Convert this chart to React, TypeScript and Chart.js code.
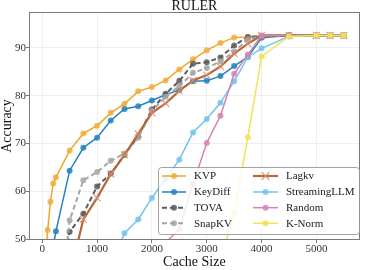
import React, { useEffect, useRef } from "react";
import { Chart, registerables } from "chart.js";

Chart.register(...registerables);

// ---------- data ----------
const cacheSizes = [50, 100, 150, 200, 250, 500, 750, 1000, 1250, 1500, 1750, 2000, 2250, 2500, 2750, 3000, 3250, 3500, 3750, 4000, 4500, 5000, 5250, 5500];

const kvp = [45.0, 51.9, 57.8, 61.6, 62.9, 68.5, 72.1, 73.7, 76.4, 78.3, 80.9, 81.8, 83.2, 85.5, 87.6, 89.5, 91.0, 92.2, 92.3, 92.5, 92.6, 92.6, 92.6, 92.6];
const keyDiff = [null, null, null, 48.4, 51.6, 64.3, 69.1, 71.2, 74.8, 77.2, 77.8, 79.0, 80.2, 81.2, 83.0, 83.1, 84.1, 86.2, 88.1, 92.1, 92.6, 92.6, 92.6, 92.6];
const tova = [null, null, null, null, 36.0, 51.5, 55.3, 61.0, 63.7, 67.6, 71.5, 77.1, 80.4, 83.1, 86.7, 87.0, 88.0, 90.5, 92.3, 92.5, 92.6, 92.6, 92.6, 92.6];
const snapKV = [null, null, null, null, 28.0, 53.9, 62.3, 64.0, 66.4, 67.9, 71.2, 76.8, 79.8, 82.0, 84.8, 85.8, 87.2, 89.2, 91.8, 92.5, 92.6, 92.6, 92.6, 92.6];
const lagkv = [null, null, null, null, null, 42.3, 54.1, 58.6, 63.6, 67.6, 72.0, 76.4, 78.4, 81.0, 83.2, 84.3, 86.1, 88.8, 90.9, 92.6, 92.6, 92.6, 92.6, 92.6];
const streamingLLM = [null, null, null, null, null, null, null, null, 44.3, 51.2, 54.1, 58.6, 62.6, 66.6, 72.3, 75.1, 78.5, 83.0, 88.1, 89.9, 92.4, 92.6, 92.6, 92.6];
const randomSel = [null, null, null, null, null, null, null, null, null, null, null, 45.0, 49.3, 52.0, 61.5, 70.1, 75.8, 84.6, 88.6, 92.6, 92.6, 92.6, 92.6, 92.6];
const kNorm = [null, null, null, null, null, null, null, null, null, null, null, null, null, null, null, 38.0, 45.3, 55.5, 71.3, 88.2, 92.4, 92.6, 92.6, 92.6];

const seriesNames = ["KVP", "KeyDiff", "TOVA", "SnapKV", "Lagkv", "StreamingLLM", "Random", "K-Norm"];
const seriesValues = [kvp, keyDiff, tova, snapKV, lagkv, streamingLLM, randomSel, kNorm];

const xTicks = [0, 1000, 2000, 3000, 4000, 5000];
const yTicks = [50, 60, 70, 80, 90];

// ---------- styles ----------
type Style = { line: string; marker: string; dash: number[]; width: number; point: string; radius: number; markerBorder: number };
const styles: Style[] = [
  { line: "#f0a72e", marker: "rgba(242,170,50,0.8)", dash: [], width: 1.5, point: "circle", radius: 3, markerBorder: 0 },
  { line: "#2382c1", marker: "rgba(35,130,193,0.85)", dash: [], width: 1.5, point: "circle", radius: 3, markerBorder: 0 },
  { line: "#5c5c5c", marker: "rgba(92,92,92,0.85)", dash: [5, 3], width: 2, point: "circle", radius: 3, markerBorder: 0 },
  { line: "#a6a6a6", marker: "rgba(166,166,166,0.85)", dash: [5, 3], width: 2, point: "circle", radius: 3, markerBorder: 0 },
  { line: "#b4683b", marker: "rgba(225,140,105,0.9)", dash: [], width: 2.2, point: "crossRot", radius: 5, markerBorder: 1.2 },
  { line: "#72c4ee", marker: "rgba(114,196,238,0.85)", dash: [], width: 1.5, point: "circle", radius: 3, markerBorder: 0 },
  { line: "#d882b0", marker: "rgba(216,130,176,0.85)", dash: [], width: 1.5, point: "circle", radius: 3, markerBorder: 0 },
  { line: "#f3e25a", marker: "rgba(243,226,90,0.9)", dash: [], width: 1.5, point: "circle", radius: 3, markerBorder: 0 },
];

const FONT = "'Liberation Serif', 'Times New Roman', serif";

const frameAndLegend = {
  id: "frameAndLegend",
  afterDraw(chart: any) {
    const ctx = chart.ctx as CanvasRenderingContext2D;
    const a = chart.chartArea;
    ctx.save();
    // axes frame
    ctx.strokeStyle = "#7a7a7a";
    ctx.lineWidth = 1;
    ctx.strokeRect(Math.round(a.left) - 0.5, Math.round(a.top) - 0.5, Math.round(a.right - a.left) + 1, Math.round(a.bottom - a.top) + 1);

    // legend box
    const bx = 158.5, by = 167.5, bw = 201, bh = 67, r = 3;
    ctx.beginPath();
    ctx.moveTo(bx + r, by);
    ctx.lineTo(bx + bw - r, by);
    ctx.quadraticCurveTo(bx + bw, by, bx + bw, by + r);
    ctx.lineTo(bx + bw, by + bh - r);
    ctx.quadraticCurveTo(bx + bw, by + bh, bx + bw - r, by + bh);
    ctx.lineTo(bx + r, by + bh);
    ctx.quadraticCurveTo(bx, by + bh, bx, by + bh - r);
    ctx.lineTo(bx, by + r);
    ctx.quadraticCurveTo(bx, by, bx + r, by);
    ctx.closePath();
    ctx.fillStyle = "rgba(255,255,255,0.82)";
    ctx.fill();
    ctx.strokeStyle = "#8a8a8a";
    ctx.lineWidth = 0.8;
    ctx.stroke();

    const rowsY = [176, 192, 207.7, 223.3];
    const cols = [
      { h0: 162, h1: 186, tx: 194 },
      { h0: 253, h1: 278, tx: 286 },
    ];
    ctx.font = `11px ${FONT}`;
    ctx.textBaseline = "middle";
    ctx.textAlign = "left";
    seriesNames.forEach((name, i) => {
      const col = cols[Math.floor(i / 4)];
      const y = rowsY[i % 4];
      const s = styles[i];
      ctx.save();
      ctx.strokeStyle = s.line;
      ctx.lineWidth = s.width;
      ctx.setLineDash(s.dash);
      ctx.beginPath();
      ctx.moveTo(col.h0, y);
      ctx.lineTo(col.h1, y);
      ctx.stroke();
      ctx.setLineDash([]);
      const cx = (col.h0 + col.h1) / 2;
      if (s.point === "crossRot") {
        ctx.strokeStyle = s.marker;
        ctx.lineWidth = s.markerBorder;
        const d = s.radius * 0.75;
        ctx.beginPath();
        ctx.moveTo(cx - d, y - d);
        ctx.lineTo(cx + d, y + d);
        ctx.moveTo(cx + d, y - d);
        ctx.lineTo(cx - d, y + d);
        ctx.stroke();
      } else {
        ctx.fillStyle = s.marker;
        ctx.beginPath();
        ctx.arc(cx, y, s.radius, 0, Math.PI * 2);
        ctx.fill();
      }
      ctx.restore();
      ctx.fillStyle = "#1a1a1a";
      ctx.fillText(name, col.tx, y + 0.5);
    });
    ctx.restore();
  },
};

export default function App() {
  const ref = useRef<HTMLCanvasElement | null>(null);

  useEffect(() => {
    if (!ref.current) return;
    Chart.defaults.font.family = FONT;
    const datasets = seriesNames.map((name, i) => {
      const s = styles[i];
      return {
        label: name,
        data: cacheSizes.map((x, j) => ({ x, y: seriesValues[i][j] })).filter((p) => p.y !== null),
        borderColor: s.line,
        backgroundColor: s.marker,
        borderWidth: s.width,
        borderDash: s.dash,
        pointStyle: s.point,
        pointRadius: s.radius,
        pointBorderWidth: s.markerBorder,
        pointBorderColor: s.point === "crossRot" ? s.marker : "rgba(0,0,0,0)",
        pointBackgroundColor: s.marker,
        tension: 0,
        fill: false,
        clip: 0,
        order: seriesNames.length - i,
      };
    });

    const chart = new Chart(ref.current, {
      type: "line",
      data: { datasets: datasets as any },
      options: {
        animation: false,
        responsive: false,
        devicePixelRatio: 1,
        layout: { padding: { left: 0, right: 1, top: 0, bottom: 0 } },
        plugins: {
          legend: { display: false },
          tooltip: { enabled: false },
          title: {
            display: true,
            text: "RULER",
            fullSize: false,
            color: "#111",
            font: { family: FONT, size: 14, weight: "normal", lineHeight: 0.93 },
            padding: 0,
          },
        },
        scales: {
          x: {
            type: "linear",
            min: -222.5,
            max: 5772.5,
            afterBuildTicks: (scale: any) => {
              scale.ticks = xTicks.map((v) => ({ value: v }));
            },
            afterFit: (scale: any) => {
              scale.height = 31;
            },
            grid: { color: "#ebebeb", lineWidth: 0.8, tickColor: "#555", tickLength: 4, drawTicks: true },
            border: { display: false },
            ticks: { color: "#333", font: { family: FONT, size: 11 }, padding: 0, maxRotation: 0, callback: (v: any) => String(v) },
            title: { display: true, text: "Cache Size", color: "#111", font: { family: FONT, size: 14, lineHeight: 1.05 }, padding: 0 },
          },
          y: {
            type: "linear",
            min: 50,
            max: 97.3,
            afterBuildTicks: (scale: any) => {
              scale.ticks = yTicks.map((v) => ({ value: v }));
            },
            afterFit: (scale: any) => {
              scale.width = 30;
            },
            grid: { color: "#ebebeb", lineWidth: 0.8, tickColor: "#555", tickLength: 4, drawTicks: true },
            border: { display: false },
            ticks: { color: "#333", font: { family: FONT, size: 11 }, padding: 0, callback: (v: any) => String(v) },
            title: { display: true, text: "Accuracy", color: "#111", font: { family: FONT, size: 14, lineHeight: 1 }, padding: 0 },
          },
        },
      },
      plugins: [frameAndLegend],
    } as any);

    return () => chart.destroy();
  }, []);

  return (
    <canvas
      ref={ref}
      width={365}
      height={270}
      style={{ position: "absolute", left: 0, top: 0, width: 365, height: 270, display: "block" }}
    />
  );
}
